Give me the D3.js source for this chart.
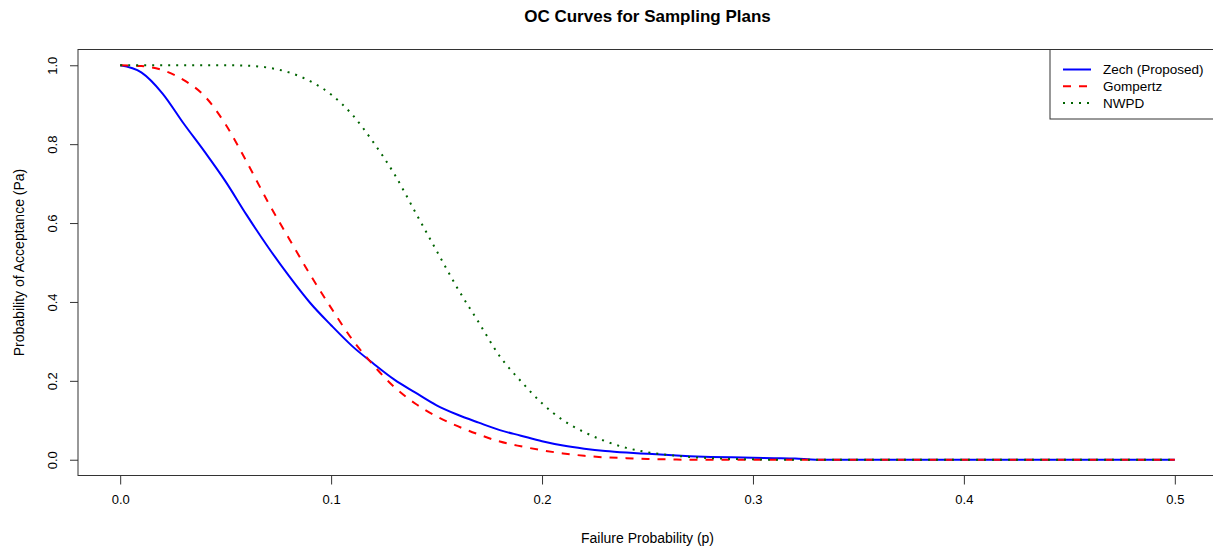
<!DOCTYPE html>
<html lang="en">
<head>
    <meta charset="UTF-8">
    <title>OC Curves for Sampling Plans</title>
    <script src="https://cdnjs.cloudflare.com/ajax/libs/d3/7.8.5/d3.min.js"></script>
    <style>
        * { margin: 0; padding: 0; }
        body { background: #fff; width: 1213px; height: 550px; overflow: hidden; }
        svg text { font-family: Arial, 'Liberation Sans', sans-serif; fill: #000; }
    </style>
</head>
<body>
    <svg id="chart" width="1213" height="550"></svg>

    <script>
        // Failure probability grid, 0.00 .. 0.50 step 0.01
        const pValues = [
            0.00, 0.01, 0.02, 0.03, 0.04, 0.05, 0.06, 0.07, 0.08, 0.09,
            0.10, 0.11, 0.12, 0.13, 0.14, 0.15, 0.16, 0.17, 0.18, 0.19,
            0.20, 0.21, 0.22, 0.23, 0.24, 0.25, 0.26, 0.27, 0.28, 0.29,
            0.30, 0.31, 0.32, 0.33, 0.34, 0.35, 0.36, 0.37, 0.38, 0.39,
            0.40, 0.41, 0.42, 0.43, 0.44, 0.45, 0.46, 0.47, 0.48, 0.49,
            0.50
        ];

        // Probability of acceptance
        const zechPa = [
            1.000, 0.982, 0.929, 0.853, 0.781, 0.705, 0.620, 0.540, 0.466, 0.398,
            0.341, 0.288, 0.244, 0.203, 0.170, 0.138, 0.114, 0.094, 0.075, 0.061,
            0.047, 0.036, 0.028, 0.022, 0.018, 0.015, 0.012, 0.009, 0.007, 0.006,
            0.005, 0.004, 0.003, 0.000, 0.000, 0.000, 0.000, 0.000, 0.000, 0.000,
            0.000, 0.000, 0.000, 0.000, 0.000, 0.000, 0.000, 0.000, 0.000, 0.000,
            0.000
        ];
        const gompertzPa = [
            1.000, 0.998, 0.988, 0.963, 0.922, 0.850, 0.755, 0.654, 0.561, 0.470,
            0.385, 0.305, 0.240, 0.184, 0.142, 0.110, 0.085, 0.064, 0.046, 0.034,
            0.024, 0.016, 0.010, 0.006, 0.004, 0.002, 0.001, 0.000, 0.000, 0.000,
            0.000, 0.000, 0.000, 0.000, 0.000, 0.000, 0.000, 0.000, 0.000, 0.000,
            0.000, 0.000, 0.000, 0.000, 0.000, 0.000, 0.000, 0.000, 0.000, 0.000,
            0.000
        ];
        const nwpdPa = [
            1.000, 1.000, 1.000, 1.000, 1.000, 1.000, 0.999, 0.994, 0.982, 0.960,
            0.926, 0.875, 0.805, 0.724, 0.627, 0.530, 0.434, 0.348, 0.262, 0.199,
            0.143, 0.100, 0.070, 0.047, 0.030, 0.019, 0.012, 0.007, 0.004, 0.002,
            0.001, 0.000, 0.000, 0.000, 0.000, 0.000, 0.000, 0.000, 0.000, 0.000,
            0.000, 0.000, 0.000, 0.000, 0.000, 0.000, 0.000, 0.000, 0.000, 0.000,
            0.000
        ];

        const xTicks = [0, 0.1, 0.2, 0.3, 0.4, 0.5];
        const yTicks = [0, 0.2, 0.4, 0.6, 0.8, 1.0];

        const seriesNames = ['Zech (Proposed)', 'Gompertz', 'NWPD'];
        const seriesValues = [zechPa, gompertzPa, nwpdPa];
        const seriesColors = ['#0000ff', '#ff0000', '#006400'];
        const seriesDash = [null, '8,8', '2,6'];

        const svg = d3.select('#chart');

        // plot region (R style, 4% padding on each axis)
        const box = {left: 78, right: 1217, top: 49.5, bottom: 475.5};

        const x = d3.scaleLinear()
            .domain([-0.02, 0.52])
            .range([box.left, box.right]);

        const y = d3.scaleLinear()
            .domain([-0.04, 1.04])
            .range([box.bottom, box.top]);

        // Title
        svg.append('text')
            .attr('x', (box.left + box.right) / 2)
            .attr('y', 21.5)
            .attr('text-anchor', 'middle')
            .style('font-size', '17px')
            .style('font-weight', 'bold')
            .text('OC Curves for Sampling Plans');

        // Curves
        svg.append('clipPath').attr('id', 'plotClip')
            .append('rect')
            .attr('x', box.left).attr('y', box.top)
            .attr('width', box.right - box.left).attr('height', box.bottom - box.top);

        const line = d3.line()
            .curve(d3.curveMonotoneX)
            .x(d => x(d[0]))
            .y(d => y(d[1]));

        seriesValues.forEach((vals, i) => {
            svg.append('path')
                .datum(pValues.map((p, j) => [p, vals[j]]))
                .attr('d', line)
                .attr('fill', 'none')
                .attr('stroke', seriesColors[i])
                .attr('stroke-width', 2)
                .attr('stroke-dasharray', seriesDash[i])
                .attr('clip-path', 'url(#plotClip)');
        });

        // Box
        svg.append('rect')
            .attr('x', box.left)
            .attr('y', box.top)
            .attr('width', box.right - box.left)
            .attr('height', box.bottom - box.top)
            .attr('fill', 'none')
            .attr('stroke', '#333')
            .attr('stroke-width', 1);

        // X axis
        const xAxis = svg.append('g')
            .attr('transform', `translate(0,${box.bottom})`)
            .call(d3.axisBottom(x)
                .tickValues(xTicks)
                .tickFormat(d3.format('.1f'))
                .tickSizeInner(9)
                .tickSizeOuter(0)
                .tickPadding(10));
        xAxis.select('.domain').remove();
        xAxis.selectAll('line').attr('stroke', '#333');
        xAxis.selectAll('text')
            .style('font-size', '13px')
            .style('font-family', 'Arial, "Liberation Sans", sans-serif');

        // Y axis
        const yAxis = svg.append('g')
            .attr('transform', `translate(${box.left},0)`)
            .call(d3.axisLeft(y)
                .tickValues(yTicks)
                .tickFormat(d3.format('.1f'))
                .tickSizeInner(8)
                .tickSizeOuter(0));
        yAxis.select('.domain').remove();
        yAxis.selectAll('line').attr('stroke', '#333');
        yAxis.selectAll('text')
            .attr('x', null)
            .attr('text-anchor', 'middle')
            .attr('transform', 'translate(-26,0) rotate(-90)')
            .attr('dy', '0.35em')
            .style('font-size', '13px')
            .style('font-family', 'Arial, "Liberation Sans", sans-serif');

        // Axis titles
        svg.append('text')
            .attr('x', (box.left + box.right) / 2)
            .attr('y', 543)
            .attr('text-anchor', 'middle')
            .style('font-size', '14px')
            .text('Failure Probability (p)');

        svg.append('text')
            .attr('transform', `translate(24,${(box.top + box.bottom) / 2}) rotate(-90)`)
            .attr('text-anchor', 'middle')
            .style('font-size', '14px')
            .text('Probability of Acceptance (Pa)');

        // Legend
        const legend = svg.append('g');
        legend.append('rect')
            .attr('x', 1050)
            .attr('y', box.top)
            .attr('width', box.right - 1050)
            .attr('height', 69.5)
            .attr('fill', '#fff')
            .attr('stroke', '#333')
            .attr('stroke-width', 1);

        seriesNames.forEach((name, i) => {
            const ly = 69.5 + i * 16.7;
            legend.append('line')
                .attr('x1', 1063).attr('x2', 1091)
                .attr('y1', ly).attr('y2', ly)
                .attr('stroke', seriesColors[i])
                .attr('stroke-width', 2)
                .attr('stroke-dasharray', seriesDash[i]);
            legend.append('text')
                .attr('x', 1103)
                .attr('y', ly)
                .attr('dy', '0.35em')
                .style('font-size', '13.5px')
                .text(name);
        });
    </script>
</body>
</html>
